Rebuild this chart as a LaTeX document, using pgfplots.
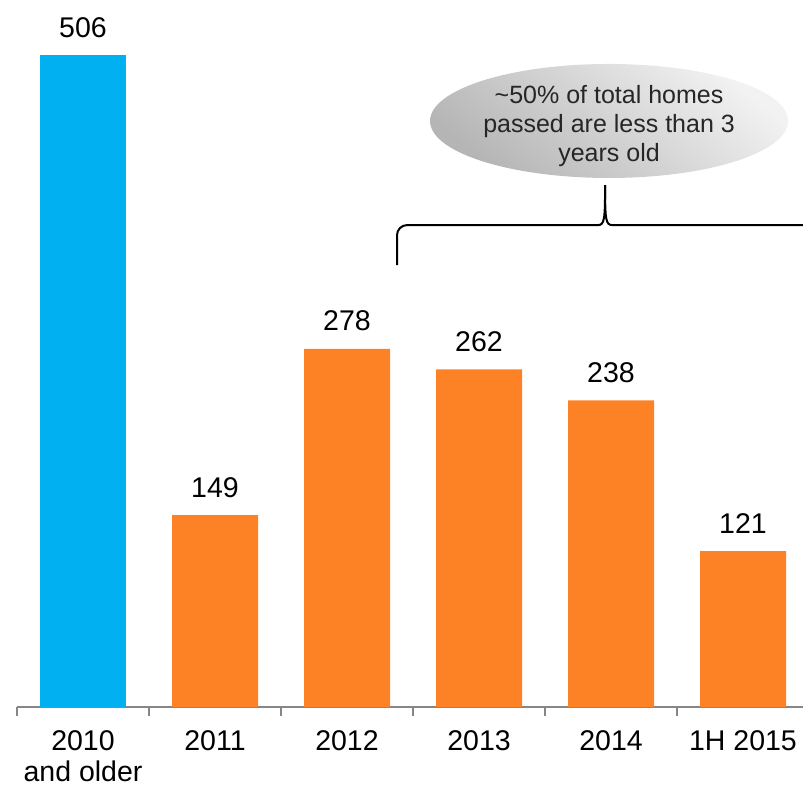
\documentclass[border=0pt]{standalone}
\usepackage{pgfplots}
\pgfplotsset{compat=1.18}
\usepackage{fontspec}
\setmainfont{Liberation Sans}
\definecolor{barblue}{RGB}{0,176,240}
\definecolor{barorange}{RGB}{253,130,38}
\definecolor{axgray}{RGB}{134,134,134}
\begin{document}
\begin{tikzpicture}
\begin{axis}[name=ax,
  scale only axis, width=786bp, height=707bp,
  xmin=-0.5, xmax=5.4545, ymin=0, ymax=548.7,
  axis x line=bottom, axis y line=none,
  axis line style={-, axgray, line width=1.3bp},
  xtick={-0.5,0.5,1.5,2.5,3.5,4.5},
  xticklabels={{2010\\and older},2011,2012,2013,2014,1H 2015},
  xticklabel style={align=center, font=\fontsize{28.5bp}{30.5bp}\selectfont, anchor=north, inner sep=0pt, xshift=66bp, yshift=-14.5bp},
  tick style={axgray, line width=1.3bp},
  major tick length=9bp, tick align=outside,
  clip=false,
  /pgf/number format/assume math mode=true,
  ybar, bar width=86bp,
  nodes near coords={\fontsize{28.5bp}{34bp}\selectfont\pgfmathprintnumber[assume math mode=true]{\pgfplotspointmeta}},
  every node near coord/.append style={anchor=base, yshift=18bp, inner sep=0pt, black},
]
\addplot[fill=barblue, draw=none, bar shift=0pt] coordinates {(0,506)};
\addplot[fill=barorange, draw=none, bar shift=0pt] coordinates {(1,149) (2,278) (3,262) (4,238) (5,121)};
% brace
\draw[black, line width=2bp, rounded corners=10bp] (axis cs:2.379,343) -- (axis cs:2.379,374) -- (axis cs:3.90,374);
\draw[black, line width=2bp] (axis cs:3.90,374) .. controls (axis cs:3.95,374) and (axis cs:3.955,378) .. (axis cs:3.955,405);
\draw[black, line width=2bp] (axis cs:3.955,405) .. controls (axis cs:3.955,378) and (axis cs:3.96,374) .. (axis cs:4.01,374) -- (axis cs:5.6,374);
% ellipse
\shade[shading=axis, top color=gray!10, bottom color=gray!58, shading angle=-40] (axis cs:3.985,454.8) ellipse [x radius=179bp, y radius=57bp];
\node[align=center, font=\fontsize{25bp}{29bp}\selectfont, text=black!85] at (axis cs:3.985,450.5) {\textasciitilde 50\% of total homes\\passed are less than 3\\years old};
\end{axis}
\pgfresetboundingbox
\path (ax.south west) ++(-17bp,-80bp) rectangle (ax.north east);
\end{tikzpicture}
\end{document}
